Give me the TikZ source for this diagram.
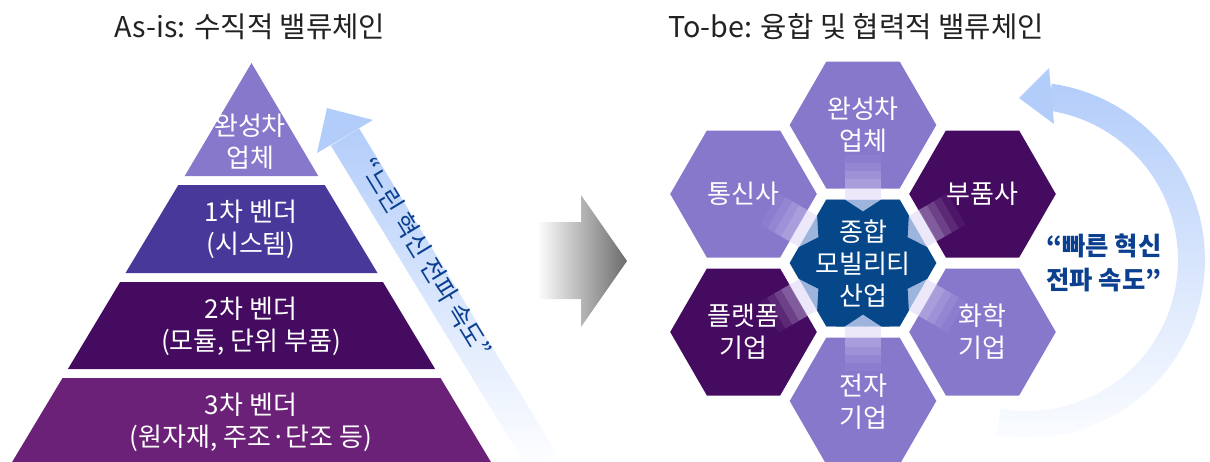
\documentclass[tikz,border=0pt]{standalone}
\usepackage{fontspec}
\setmainfont{Noto Sans CJK KR}
\usetikzlibrary{calc}
\definecolor{lpur}{HTML}{8878CC}
\definecolor{tiertwo}{HTML}{47389A}
\definecolor{dpur}{HTML}{450B60}
\definecolor{tierfour}{HTML}{6B2177}
\definecolor{starblue}{HTML}{06478A}
\definecolor{notchblue}{HTML}{9DB4DC}
\definecolor{arrowblue}{HTML}{B3CDFA}
\definecolor{txtblue}{HTML}{0B3F8F}
\definecolor{lav}{HTML}{DCD6F6}
\definecolor{titlegray}{HTML}{222222}
\definecolor{arrowgray}{HTML}{6B6B6B}
\newcommand{\myhex}[3]{\fill[#3] ({#1+73.3},#2) -- ({#1+36.65},{#2-63.5}) -- ({#1-36.65},{#2-63.5}) -- ({#1-73.3},#2) -- ({#1-36.65},{#2+63.5}) -- ({#1+36.65},{#2+63.5}) -- cycle;}
\begin{document}
\begin{tikzpicture}[x=0.75pt,y=-0.75pt,
  lbl/.style={text=white, align=center, font=\fontsize{19.5}{24}\selectfont, inner sep=0pt},
  ttl/.style={text=titlegray, font=\fontsize{21.5}{24}\selectfont, inner sep=0pt}]
\useasboundingbox (0,0) rectangle (1210,461);
\clip (0,0) rectangle (1210,461);

% titles
\node[ttl] (asis) at (250,27) {As-is: 수직적 밸류체인};
\node[ttl] (tobe) at (856,27) {To-be: 융합 및 협력적 밸류체인};

% pyramid
\fill[lpur] (251.5,63) -- (318.3,176) -- (184.7,176) -- cycle;
\fill[tiertwo] (178.3,185) -- (324.7,185) -- (377.5,273) -- (125.5,273) -- cycle;
\fill[dpur] (120.1,282) -- (382.9,282) -- (435.1,369) -- (67.9,369) -- cycle;
\fill[tierfour] (62.5,378) -- (440.5,378) -- (495.7,470) -- (7.3,470) -- cycle;
\node[lbl] (t1) at (250,142) {완성차\\업체};
\node[lbl] (t2) at (251,229) {1차 벤더\\(시스템)};
\node[lbl] (t3) at (251,326.5) {2차 벤더\\(모듈, 단위 부품)};
\node[lbl] (t4) at (251,422.5) {3차 벤더\\(원자재, 주조·단조 등)};

% slow arrow
\shade[top color=arrowblue, middle color=arrowblue!75!white, bottom color=white]
  (359.1,128.4) -- (556.7,453.3) -- (528.5,470.5) -- (330.9,145.6) -- cycle;
\fill[arrowblue] (327,108) -- (373,120) -- (317,153) -- cycle;
\node[rotate=-58.7, text=txtblue, font=\fontsize{19}{21}\selectfont, inner sep=0pt] (slow) at (426,258) {“느린 혁신 전파 속도”};

% gray arrow
\shade[left color=white, right color=arrowgray]
  (537,222) -- (581,222) -- (581,195) -- (627,261) -- (581,327) -- (581,299) -- (537,299) -- cycle;

% hexagons
\coordinate (C) at (863,263);
\myhex{863}{125}{lpur}
\myhex{863}{401}{lpur}
\myhex{743.5}{194}{lpur}
\myhex{743.5}{332}{dpur}
\myhex{982.5}{194}{dpur}
\myhex{982.5}{332}{lpur}
\myhex{863}{263}{notchblue}
\fill[starblue] ($(C)+(0:73.3)$) \foreach \k in {0,...,5}{ -- ($(C)+(60*\k+13.9:66.1)$) -- ($(C)+(60*\k+30:51.5)$) -- ($(C)+(60*\k+46.1:66.1)$) -- ($(C)+(60*\k+60:73.3)$) } -- cycle;
\foreach \t in {90,30,-30,-90,-150,150}{
  \begin{scope}[shift={(C)}, rotate=\t]
    \fill[lav, opacity=.55] (63.5,-18) rectangle (75,18);
    \fill[lav, opacity=.4] (75,-18) rectangle (84,18);
    \fill[lav, opacity=.27] (84,-18) rectangle (92,18);
    \fill[lav, opacity=.15] (92,-18) rectangle (100,18);
    \fill[lav, opacity=.06] (100,-18) rectangle (108,18);
  \end{scope}
}
\node[lbl] (h1) at (863,125) {완성차\\업체};
\node[lbl] (h2) at (743.5,194) {통신사};
\node[lbl] (h3) at (982.5,194) {부품사};
\node[lbl] (h4) at (743.5,332) {플랫폼\\기업};
\node[lbl] (h5) at (982.5,332) {화학\\기업};
\node[lbl] (h6) at (863,402) {전자\\기업};
\node[lbl] (hc) at (863,263) {종합\\모빌리티\\산업};

% fast arrow
\shade[top color=arrowblue, middle color=arrowblue!92!white, bottom color=arrowblue!6!white]
  plot[domain=-82:100, samples=60] ({1027+178*cos(\x)},{260+178*sin(\x)})
  -- plot[domain=100:-82, samples=60] ({1027+151*cos(\x)},{260+151*sin(\x)}) -- cycle;
\fill[arrowblue] (1049,68) -- (1019,98) -- (1054,124) -- cycle;
\node[align=center, text=txtblue, font=\bfseries\fontsize{19}{25}\selectfont, inner sep=0pt] (fast) at (1104,263) {“빠른 혁신\\전파 속도”};
\end{tikzpicture}
\end{document}
